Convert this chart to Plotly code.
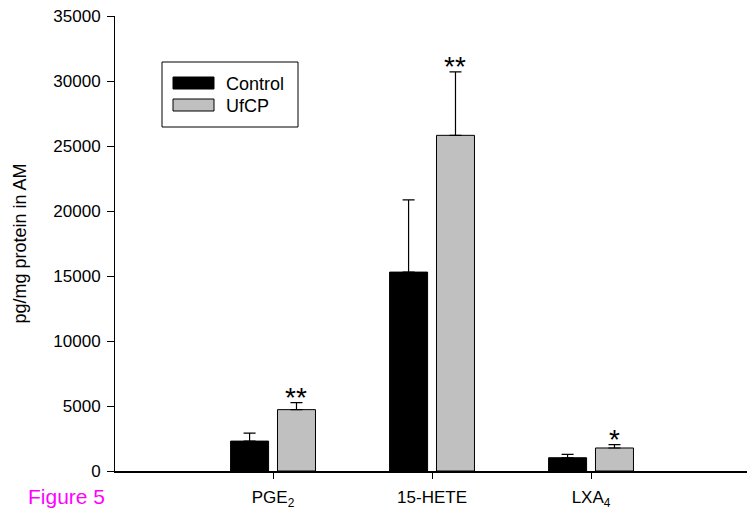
import plotly.graph_objects as go

categories = ["PGE<sub>2</sub>", "15-HETE", "LXA<sub>4</sub>"]
control = [2300, 15300, 1020]
control_err = [620, 5550, 260]
ufcp = [4720, 25820, 1770]
ufcp_err = [540, 4880, 260]
signif = ["**", "**", "*"]
y_ticks = [0, 5000, 10000, 15000, 20000, 25000, 30000, 35000]
y_tick_labels = ["0", "5000", "10000", "15000", "20000", "25000", "30000", "35000"]

W, H = 747, 510
ML, MT, MB = 115, 16, 39
plot_w = W - ML
plot_h = H - MT - MB

xpos = list(range(len(categories)))
bar_w = 0.239
off_c = -0.267
off_u = 0.028
font = "Arial, Liberation Sans, sans-serif"

fig = go.Figure()
fig.add_trace(go.Bar(
    x=xpos, y=control, name="Control", width=bar_w, offset=off_c,
    marker=dict(color="#000000", line=dict(color="#000000", width=1)),
    error_y=dict(type="data", array=control_err, arrayminus=[0] * 3, symmetric=False,
                 color="#000000", thickness=1.2, width=6),
    showlegend=False,
))
fig.add_trace(go.Bar(
    x=xpos, y=ufcp, name="UfCP", width=bar_w, offset=off_u,
    marker=dict(color="#C0C0C0", line=dict(color="#000000", width=1)),
    error_y=dict(type="data", array=ufcp_err, arrayminus=[0] * 3, symmetric=False,
                 color="#000000", thickness=1.2, width=6),
    showlegend=False,
))

for i, s in enumerate(signif):
    fig.add_annotation(x=xpos[i] + off_u + bar_w / 2, y=ufcp[i] + ufcp_err[i], text=s,
                       showarrow=False, xref="x", yref="y", yanchor="bottom",
                       yshift=-12, font=dict(size=28, color="#000000", family=font))

# legend box (custom, to mimic wide swatches)
def px2paper(px, py):
    return (px - ML) / plot_w, (H - MB - py) / plot_h

bx0, by0 = px2paper(162, 127)
bx1, by1 = px2paper(298, 62)
fig.add_shape(type="rect", xref="paper", yref="paper", x0=bx0, y0=by0, x1=bx1, y1=by1,
              line=dict(color="#000000", width=1), fillcolor="white")
for (label, col, cy) in [("Control", "#000000", 83), ("UfCP", "#C0C0C0", 105)]:
    sx0, sy0 = px2paper(173, cy + 6)
    sx1, sy1 = px2paper(214, cy - 6)
    fig.add_shape(type="rect", xref="paper", yref="paper", x0=sx0, y0=sy0, x1=sx1, y1=sy1,
                  line=dict(color="#000000", width=1), fillcolor=col)
    tx, ty = px2paper(224, cy + 1)
    fig.add_annotation(x=tx, y=ty, xref="paper", yref="paper", text=label, showarrow=False,
                       xanchor="left", yanchor="middle",
                       font=dict(size=18, color="#000000", family=font))

fx, fy = px2paper(26, 496)
fig.add_annotation(x=fx, y=fy, xref="paper", yref="paper", text="Figure 5", showarrow=False,
                   xanchor="left", yanchor="middle",
                   font=dict(size=21, color="#FF00FF", family=font))

fig.update_layout(
    width=W, height=H,
    margin=dict(l=ML, r=0, t=MT, b=MB, pad=0),
    plot_bgcolor="white", paper_bgcolor="white",
    font=dict(family=font, size=17, color="#000000"),
    xaxis=dict(range=[-0.994, 2.981], tickmode="array", tickvals=xpos, ticktext=categories,
               showline=True, linecolor="#000000", linewidth=1.5, ticks="outside",
               ticklen=6, tickcolor="#000000", showgrid=False, zeroline=False,
               tickfont=dict(size=17), ticklabelstandoff=4),
    yaxis=dict(range=[0, 35000], tickmode="array", tickvals=y_ticks, ticktext=y_tick_labels,
               showline=True, linecolor="#000000", linewidth=1, ticks="outside",
               ticklen=7, tickcolor="#000000", showgrid=False, zeroline=False,
               tickfont=dict(size=17), ticklabelstandoff=3,
               title=dict(text="pg/mg protein in AM", font=dict(size=18), standoff=22)),
)

fig.write_html("out.html")
